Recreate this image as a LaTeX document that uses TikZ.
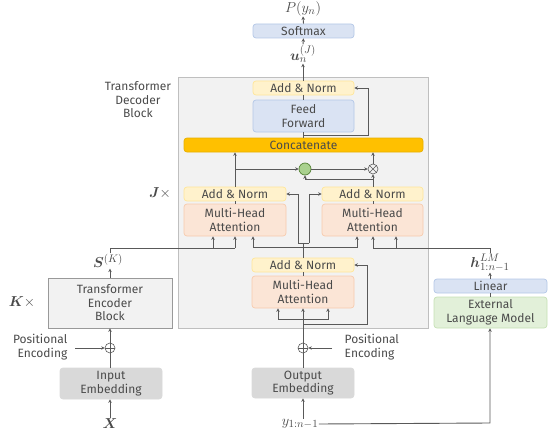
\documentclass[tikz,border=0pt]{standalone}
\usepackage{amsmath}
\usepackage{fontspec}
\setmainfont{Fira Sans}
\usetikzlibrary{arrows.meta}
\definecolor{linec}{HTML}{595959}
\definecolor{txtc}{HTML}{4A4A4A}
\definecolor{blueF}{HTML}{DAE3F3}\definecolor{blueD}{HTML}{B4C7E7}
\definecolor{yelF}{HTML}{FFF2CC}\definecolor{yelD}{HTML}{FFE699}
\definecolor{orF}{HTML}{FBE5D6}\definecolor{orD}{HTML}{F8CBAD}
\definecolor{catF}{HTML}{FFC000}\definecolor{catD}{HTML}{E8B000}
\definecolor{grnF}{HTML}{E2F0D9}\definecolor{grnD}{HTML}{C5E0B4}
\definecolor{gcF}{HTML}{A9D18E}\definecolor{gcD}{HTML}{548235}
\definecolor{embF}{HTML}{D9D9D9}
\definecolor{blkF}{HTML}{F2F2F2}\definecolor{blkD}{HTML}{BFBFBF}
\begin{document}
\begin{tikzpicture}[x=1pt,y=-1pt,
  every node/.style={text=txtc, font=\fontsize{12}{13.5}\selectfont},
  box/.style={rounded corners=3pt, inner sep=0pt, align=center, line width=0.7pt},
  bluebox/.style={box, fill=blueF, draw=blueD},
  yelbox/.style={box, fill=yelF, draw=yelD},
  orbox/.style={box, fill=orF, draw=orD},
  embbox/.style={box, fill=embF, draw=embF},
  lab/.style={inner sep=0.5pt, align=center},
  mlab/.style={inner sep=0.5pt, font=\fontsize{15}{17}\selectfont},
  ln/.style={draw=linec, line width=0.9pt},
  ar/.style={ln, -{Stealth[length=3.5pt,width=3.5pt]}},
  opl/.style={circle, draw=linec, line width=0.6pt, minimum size=10pt, inner sep=0pt}
]
\useasboundingbox (0,0) rectangle (549,436);
% blocks
\node[draw=blkD, fill=blkF, line width=0.8pt, minimum width=250pt, minimum height=251pt, inner sep=0pt] (dec) at (303,202.5) {};
\node[draw=blkD!80!black, fill=blkF, line width=0.7pt, minimum width=124pt, minimum height=50pt, inner sep=0pt, align=center] (enc) at (110,303) {Transformer\\Encoder\\Block};
\node[lab] (declab) at (138,100) {Transformer\\Decoder\\Block};
\node[mlab] (Jx) at (160,193) {$\boldsymbol{J}\times$};
\node[mlab] (Kx) at (22,302) {$\boldsymbol{K}\times$};

% top
\node[mlab] (P) at (303,8.5) {$P(y_n)$};
\node[bluebox, minimum width=101pt, minimum height=14pt] (soft) at (303.5,31) {Softmax};
\node[mlab] (u) at (303,54) {$\boldsymbol{u}_n^{(J)}$};
\node[yelbox, minimum width=101pt, minimum height=14pt] (addT) at (303.5,88) {Add \& Norm};
\node[bluebox, minimum width=101pt, minimum height=32pt] (ff) at (303.5,116) {Feed\\Forward};
\node[box, fill=catF, draw=catD, minimum width=239pt, minimum height=14pt] (cat) at (303.5,145) {Concatenate};

% middle
\node[yelbox, minimum width=102pt, minimum height=14pt] (addL) at (235,194) {Add \& Norm};
\node[orbox, minimum width=102pt, minimum height=32pt] (mhaL) at (235,220) {Multi-Head\\Attention};
\node[yelbox, minimum width=101pt, minimum height=14pt] (addR) at (372.5,194) {Add \& Norm};
\node[orbox, minimum width=101pt, minimum height=32pt] (mhaR) at (372.5,220) {Multi-Head\\Attention};
\node[circle, fill=gcF, draw=gcD, line width=0.7pt, minimum size=12pt, inner sep=0pt] (gc) at (305,169) {};
\node[opl] (ot) at (373,169) {};
\draw[linec, line width=0.6pt] (ot.north east) -- (ot.south west) (ot.north west) -- (ot.south east);

% bottom decoder
\node[yelbox, minimum width=102pt, minimum height=14pt] (addB) at (303,265) {Add \& Norm};
\node[orbox, minimum width=102pt, minimum height=32pt] (mhaB) at (303,292) {Multi-Head\\Attention};
\node[opl] (opR) at (303,348) {};
\draw[linec, line width=0.6pt] (opR.north) -- (opR.south) (opR.east) -- (opR.west);
\node[embbox, minimum width=102pt, minimum height=30pt] (outE) at (303,383) {Output\\Embedding};
\node[mlab] (y) at (300,424) {$y_{1:n-1}$};
\node[lab, anchor=west, align=left] (posR) at (344,347) {Positional\\Encoding};

% encoder side
\node[opl] (opL) at (110,348) {};
\draw[linec, line width=0.6pt] (opL.north) -- (opL.south) (opL.east) -- (opL.west);
\node[embbox, minimum width=102pt, minimum height=31pt] (inE) at (111,383.5) {Input\\Embedding};
\node[mlab] (X) at (110,424) {$\boldsymbol{X}$};
\node[lab, anchor=east, align=right] (posL) at (68,347) {Positional\\Encoding};
\node[mlab] (S) at (108,261) {$\boldsymbol{S}^{(K)}$};

% LM side
\node[bluebox, minimum width=113pt, minimum height=14pt] (lin) at (490.5,286) {Linear};
\node[box, fill=grnF, draw=grnD, minimum width=113pt, minimum height=31pt] (lm) at (490.5,312.5) {External\\Language Model};
\node[mlab] (h) at (490,263) {$\boldsymbol{h}_{1:n-1}^{LM}$};

% coordinates
\coordinate (sTop) at (110,248);
\coordinate (hTop) at (490,248);
\coordinate (yR) at (490,423);

% connectors: top
\draw[ar] (soft.north) -- (P.south);
\draw[ar] (u.north) -- (soft.south);
\draw[ar] (addT.north -| u) -- (u.south);
\draw[ln] (ff.north -| u) -- (addT.south -| u);
\draw[ln] (cat.north -| u) -- (ff.south -| u);
\draw[ar] (303,135) -- (368,135) -- (368,88) -- (addT.east);

% middle
\draw[ar] (addL.north) -- (cat.south -| addL);
\draw[ar] (235,169) -- (gc.west);
\draw[ar] (gc.east) -- (ot.west);
\draw[ar] (addR.north -| ot) -- (ot.south);
\draw[ar] (373,179) -- (305,179) -- (gc.south);
\draw[ar] (ot.north) -- (cat.south -| ot);
\draw[ln] (mhaL.north) -- (addL.south);
\draw[ln] (mhaR.north -| ot) -- (addR.south -| ot);

% links below middle
\draw[ln] (addB.north) -- (303,243);
\draw[ar] (298,243) -- (298,194) -- (addL.east);
\draw[ar] (309,243) -- (309,194) -- (addR.west);
\draw[ln] (298,243) -- (309,243);
\draw[ar] (303,247) -- (253,247) -- (mhaL.south -| 253,0);
\draw[ar] (303,247) -- (357,247) -- (mhaR.south -| 357,0);

% encoder output
\draw[ln] (S.north -| sTop) -- (sTop) -- (235,248);
\draw[ar] (235,248) -- (mhaL.south -| 235,0);
\draw[ar] (213,248) -- (mhaL.south -| 213,0);

% LM output
\draw[ln] (h.north -| hTop) -- (hTop) -- (373,248);
\draw[ar] (373,248) -- (mhaR.south -| 373,0);
\draw[ar] (396,248) -- (mhaR.south -| 396,0);
\draw[ar] (lin.north -| h) -- (h.south);
\draw[ln] (lm.north -| h) -- (lin.south -| h);

% bottom decoder
\draw[ln] (mhaB.north) -- (addB.south);
\draw[ar] (opR.north) -- (mhaB.south);
\draw[ar] (303,319) -- (278,319) -- (mhaB.south -| 278,0);
\draw[ar] (303,319) -- (328,319) -- (mhaB.south -| 328,0);
\draw[ar] (303,324) -- (367,324) -- (367,265) -- (addB.east);
\draw[ln] (outE.north) -- (opR.south);
\draw[ar] (332,348) -- (opR.east);
\draw[ar] (y.north -| outE) -- (outE.south);
\draw[ar] (y.east) -- (yR) -- (lm.south -| yR);

% encoder side
\draw[ar] (enc.north) -- (S.south -| enc);
\draw[ar] (opL.north) -- (enc.south -| opL);
\draw[ln] (inE.north -| opL) -- (opL.south);
\draw[ar] (X.north) -- (inE.south -| X);
\draw[ar] (75,348) -- (opL.west);
\end{tikzpicture}
\end{document}
